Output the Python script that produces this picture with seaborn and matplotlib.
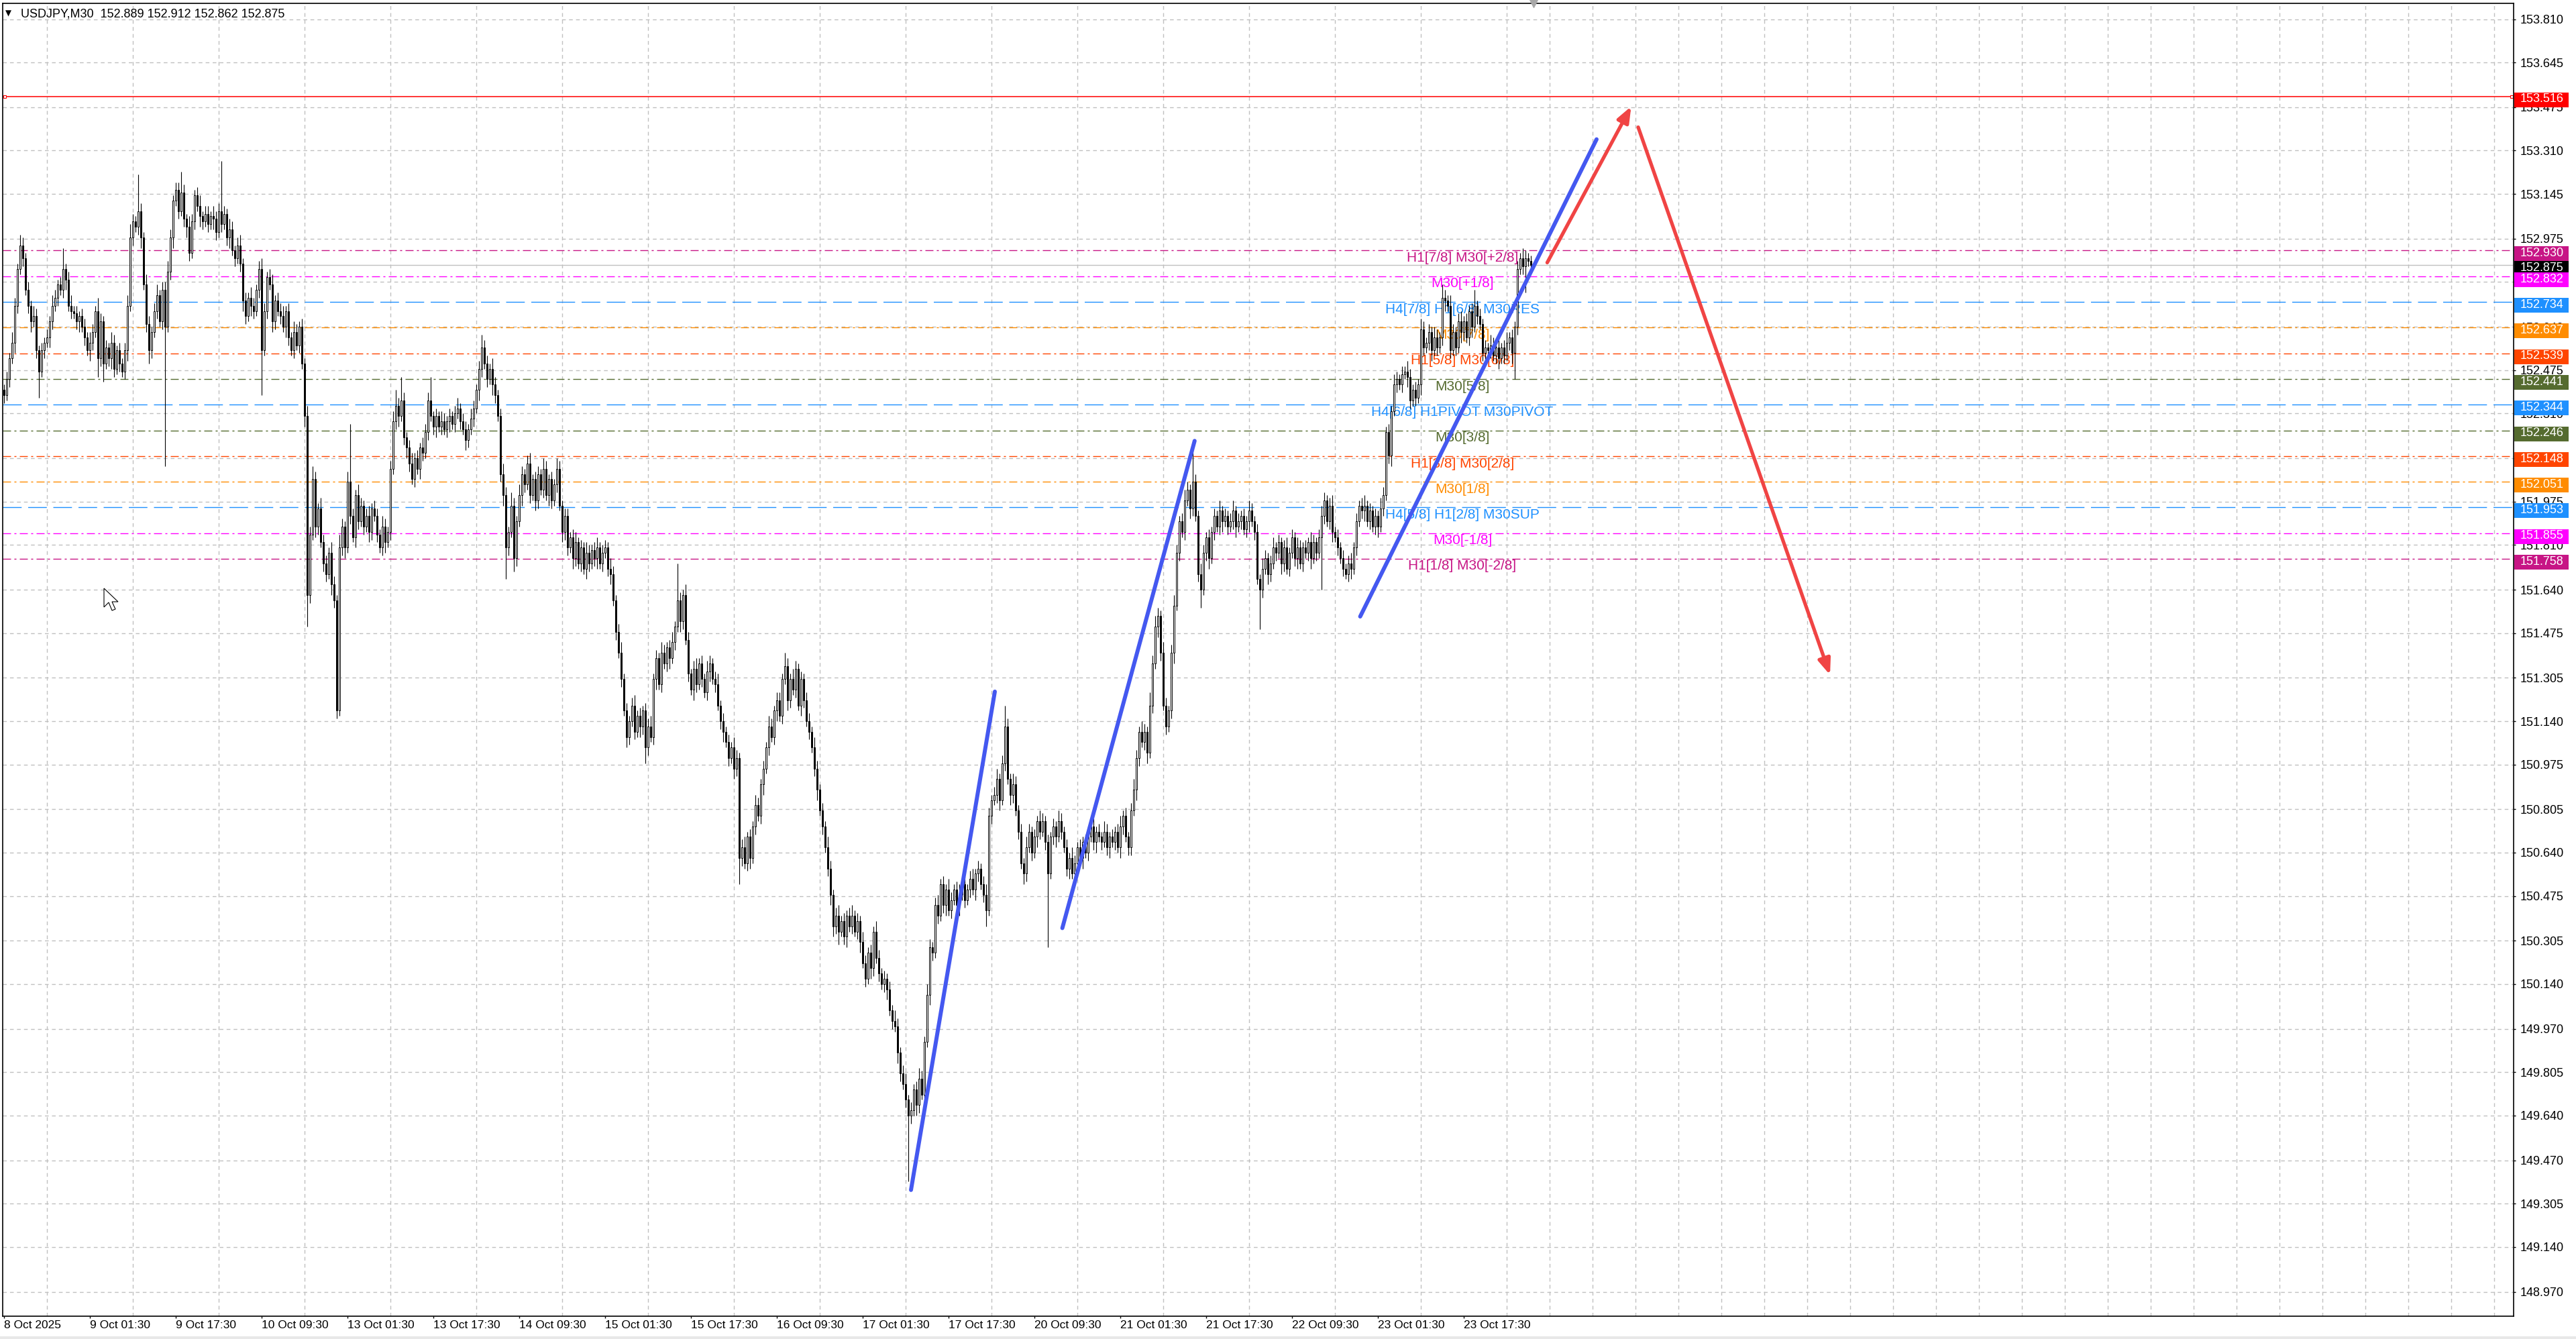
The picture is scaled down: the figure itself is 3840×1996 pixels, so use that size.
import numpy as np
import pandas as pd
import matplotlib
matplotlib.use('Agg')
import matplotlib.pyplot as plt
import matplotlib.transforms as mtransforms
from matplotlib.patches import Rectangle, Polygon
import seaborn as sns

# --- data ---
symbol_title = 'USDJPY,M30  152.889 152.912 152.862 152.875'
first_open = 152.40

# M30 closes, bar 0 = 8 Oct 09:30
closes = [
    152.38, 152.44, 152.52, 152.58, 152.72, 152.86, 152.95, 152.90, 152.78, 152.72,
    152.66, 152.68, 152.55, 152.47, 152.55, 152.58, 152.60, 152.66, 152.72, 152.75,
    152.80, 152.78, 152.86, 152.82, 152.72, 152.70, 152.69, 152.66, 152.68, 152.64,
    152.60, 152.55, 152.58, 152.62, 152.70, 152.52, 152.66, 152.50, 152.56, 152.52,
    152.58, 152.48, 152.55, 152.50, 152.47, 152.55, 152.72, 152.98, 153.04, 153.02,
    153.08, 152.98, 152.80, 152.65, 152.55, 152.62, 152.70, 152.76, 152.66, 152.78,
    152.64, 152.85, 152.98, 153.12, 153.16, 153.08, 153.15, 153.05, 153.02, 152.92,
    153.04, 153.14, 153.10, 153.06, 153.04, 153.07, 153.03, 153.06, 153.05, 153.00,
    153.08, 153.03, 153.07, 152.98, 153.01, 152.93, 152.90, 152.95, 152.88, 152.74,
    152.68, 152.75, 152.72, 152.70, 152.78, 152.86, 152.55, 152.70, 152.83, 152.80,
    152.66, 152.74, 152.70, 152.68, 152.64, 152.70, 152.60, 152.55, 152.62, 152.57,
    152.64, 152.50, 152.30, 151.62, 151.85, 152.06, 151.88, 151.95, 151.82, 151.74,
    151.70, 151.78, 151.66, 151.60, 151.18, 151.80, 151.88, 151.80, 152.05, 151.92,
    151.84, 152.00, 151.90, 151.96, 151.88, 151.92, 151.86, 151.95, 151.92, 151.85,
    151.80, 151.88, 151.82, 151.86, 152.10, 152.28, 152.34, 152.30, 152.36, 152.22,
    152.18, 152.12, 152.06, 152.14, 152.10, 152.18, 152.16, 152.24, 152.36, 152.30,
    152.26, 152.30, 152.26, 152.28, 152.25, 152.28, 152.30, 152.27, 152.31, 152.33,
    152.28, 152.25, 152.21, 152.25, 152.29, 152.33, 152.40, 152.48, 152.56, 152.50,
    152.44, 152.48, 152.42, 152.38, 152.30, 152.08, 152.00, 151.80, 151.86, 151.96,
    151.76, 151.90, 152.00, 152.08, 152.04, 152.12, 152.00, 152.06, 151.98, 152.08,
    152.02, 152.10, 152.00, 152.06, 151.98, 152.04, 152.10, 151.96, 151.86, 151.92,
    151.80, 151.84, 151.76, 151.82, 151.74, 151.80, 151.72, 151.78, 151.74, 151.79,
    151.76, 151.80, 151.74, 151.78, 151.80, 151.72, 151.70, 151.60, 151.48, 151.40,
    151.30, 151.18, 151.08, 151.14, 151.20, 151.10, 151.16, 151.12, 151.18, 151.04,
    151.12, 151.08, 151.30, 151.38, 151.28, 151.40, 151.36, 151.42, 151.38, 151.44,
    151.50, 151.60, 151.52, 151.62, 151.45, 151.32, 151.26, 151.34, 151.28, 151.36,
    151.30, 151.25, 151.33, 151.36, 151.30, 151.28, 151.20, 151.14, 151.10, 151.06,
    151.00, 151.04, 150.96, 151.00, 150.62, 150.66, 150.60, 150.70, 150.62, 150.74,
    150.82, 150.78, 150.90, 150.96, 151.04, 151.12, 151.08, 151.18, 151.22, 151.16,
    151.30, 151.35, 151.22, 151.30, 151.26, 151.34, 151.20, 151.30, 151.22, 151.14,
    151.10, 151.04, 150.96, 150.88, 150.80, 150.74, 150.66, 150.58, 150.48, 150.36,
    150.40, 150.34, 150.38, 150.32, 150.40, 150.36, 150.40, 150.34, 150.38, 150.30,
    150.22, 150.16, 150.26, 150.20, 150.34, 150.24, 150.18, 150.14, 150.16, 150.12,
    150.04, 150.00, 149.98, 149.88, 149.80, 149.76, 149.70, 149.64, 149.66, 149.74,
    149.68, 149.78, 149.72, 149.92, 150.10, 150.28, 150.26, 150.44, 150.40, 150.52,
    150.44, 150.50, 150.42, 150.46, 150.50, 150.44, 150.48, 150.52, 150.46, 150.50,
    150.54, 150.50, 150.56, 150.58, 150.52, 150.48, 150.42, 150.78, 150.84, 150.86,
    150.92, 150.84, 150.98, 151.12, 150.92, 150.86, 150.90, 150.80, 150.72, 150.60,
    150.56, 150.66, 150.72, 150.64, 150.70, 150.76, 150.72, 150.76, 150.68, 150.56,
    150.70, 150.74, 150.70, 150.76, 150.72, 150.66, 150.58, 150.62, 150.56, 150.60,
    150.66, 150.62, 150.68, 150.64, 150.70, 150.74, 150.68, 150.72, 150.70, 150.68,
    150.72, 150.66, 150.70, 150.68, 150.72, 150.66, 150.74, 150.78, 150.70, 150.66,
    150.80, 150.88, 151.00, 151.10, 151.06, 151.10, 151.02, 151.20, 151.36, 151.50,
    151.54, 151.40, 151.20, 151.12, 151.18, 151.40, 151.58, 151.78, 151.90, 151.86,
    151.98, 152.02, 151.95, 152.05, 151.92, 151.70, 151.64, 151.78, 151.84, 151.76,
    151.86, 151.92, 151.88, 151.94, 151.90, 151.92, 151.88, 151.90, 151.94, 151.88,
    151.90, 151.92, 151.87, 151.90, 151.94, 151.90, 151.86, 151.68, 151.64, 151.72,
    151.76, 151.70, 151.74, 151.80, 151.78, 151.82, 151.74, 151.80, 151.72, 151.78,
    151.84, 151.76, 151.80, 151.74, 151.80, 151.78, 151.82, 151.76, 151.82, 151.78,
    151.84, 151.92, 151.98, 151.90, 151.96, 151.86, 151.84, 151.80, 151.76, 151.72,
    151.70, 151.74, 151.72, 151.80, 151.90, 151.96, 151.94, 151.96, 151.90, 151.94,
    151.88, 151.92, 151.88, 151.95, 152.00, 152.24, 152.15, 152.32, 152.42, 152.44,
    152.42, 152.46, 152.47, 152.45, 152.36, 152.40, 152.37, 152.42, 152.63, 152.56,
    152.58, 152.62, 152.55, 152.60, 152.56, 152.60, 152.75, 152.74, 152.72, 152.55,
    152.62, 152.56, 152.66, 152.62, 152.66, 152.60, 152.70, 152.64, 152.72, 152.68,
    152.65, 152.54, 152.56, 152.55, 152.57, 152.53, 152.56, 152.52, 152.56, 152.53,
    152.58, 152.60, 152.54, 152.64, 152.86, 152.90, 152.87, 152.90, 152.89, 152.875,
]

# upper / lower shadows in 0.01 yen
wick_up = [
    2, 3, 2, 4, 3, 2, 4, 3, 2, 3, 2, 4, 3, 2, 3, 2, 3, 2, 4, 3, 2, 3, 8, 2, 3, 4, 2, 3, 2, 3,
    3, 2, 4, 3, 2, 5, 3, 2, 3, 2, 4, 3, 2, 3, 2, 3, 4, 5, 3, 2, 14, 3, 2, 4, 3, 2, 3, 4, 2, 3,
    3, 4, 3, 2, 3, 3, 8, 3, 2, 4, 3, 2, 3, 4, 2, 3, 3, 2, 4, 3, 3, 19, 3, 2, 4, 3, 2, 3, 4, 2,
    3, 2, 4, 3, 2, 3, 4, 3, 2, 3, 4, 2, 3, 3, 4, 2, 3, 2, 4, 3, 2, 3, 2, 4, 3, 5, 3, 2, 4, 3,
    3, 2, 4, 3, 2, 5, 3, 2, 4, 22, 3, 2, 4, 3, 2, 3, 4, 2, 3, 3, 2, 4, 3, 2, 3, 4, 6, 3, 9, 3,
    2, 3, 4, 2, 3, 2, 4, 3, 3, 9, 2, 3, 2, 4, 3, 2, 3, 2, 3, 4, 2, 3, 3, 2, 4, 3, 2, 3, 5, 3,
    3, 2, 4, 3, 2, 3, 4, 3, 2, 5, 3, 2, 4, 3, 2, 3, 4, 2, 3, 3, 2, 4, 3, 2, 3, 2, 4, 3, 2, 3,
    3, 2, 3, 4, 2, 3, 2, 4, 3, 2, 3, 4, 2, 3, 3, 2, 4, 3, 2, 3, 4, 2, 3, 2, 3, 4, 2, 3, 2, 3,
    3, 4, 2, 3, 2, 4, 3, 2, 3, 4, 2, 14, 3, 2, 4, 3, 2, 3, 4, 2, 3, 2, 4, 3, 2, 3, 4, 2, 3, 2,
    3, 2, 4, 3, 2, 3, 4, 2, 3, 2, 4, 3, 2, 3, 2, 4, 3, 2, 3, 3, 2, 5, 3, 2, 4, 3, 2, 3, 2, 3,
    3, 2, 4, 3, 2, 3, 2, 4, 3, 2, 3, 4, 2, 3, 2, 3, 4, 2, 3, 2, 4, 3, 2, 3, 2, 4, 3, 2, 3, 2,
    3, 2, 4, 3, 2, 3, 4, 2, 3, 2, 3, 4, 3, 2, 4, 3, 2, 3, 4, 2, 3, 2, 4, 3, 2, 3, 4, 2, 3, 2,
    3, 4, 2, 3, 2, 3, 4, 3, 2, 3, 4, 2, 3, 8, 3, 2, 4, 3, 2, 3, 2, 4, 3, 2, 3, 2, 4, 3, 2, 3,
    2, 3, 2, 4, 3, 2, 3, 2, 4, 3, 2, 3, 2, 3, 4, 2, 3, 2, 3, 2, 4, 3, 2, 3, 2, 3, 4, 2, 3, 2,
    3, 4, 3, 2, 4, 3, 2, 5, 3, 4, 3, 2, 4, 3, 2, 3, 4, 3, 2, 3, 4, 3, 2, 13, 3, 2, 4, 3, 2, 3,
    2, 3, 2, 4, 2, 3, 2, 3, 4, 2, 3, 2, 3, 2, 4, 3, 2, 3, 2, 4, 3, 2, 3, 4, 2, 3, 2, 3, 4, 2,
    3, 2, 4, 3, 2, 3, 2, 4, 3, 2, 3, 4, 3, 2, 3, 4, 2, 3, 2, 3, 2, 3, 4, 2, 3, 2, 3, 4, 2, 3,
    2, 3, 2, 4, 3, 2, 3, 2, 4, 3, 2, 3, 2, 4, 3, 2, 3, 2, 4, 3, 2, 3, 2, 4, 3, 2, 5, 3, 2, 4,
    3, 2, 3, 4, 2, 3, 2, 3, 6, 2, 3, 2, 3, 2, 4, 3, 2, 3, 2, 3, 4, 2, 3, 2, 3, 2, 4, 3, 2, 2,
]
wick_dn = [
    3, 2, 3, 2, 4, 3, 2, 3, 2, 3, 4, 2, 3, 10, 2, 3, 2, 4, 3, 2, 3, 2, 3, 4, 2, 3, 2, 3, 4, 2,
    3, 2, 4, 3, 2, 7, 3, 7, 2, 3, 4, 3, 2, 3, 2, 3, 4, 2, 3, 2, 3, 4, 2, 3, 5, 3, 2, 3, 2, 3,
    53, 2, 3, 4, 2, 3, 2, 3, 4, 3, 2, 3, 2, 4, 3, 2, 3, 2, 4, 3, 2, 3, 2, 3, 4, 2, 3, 2, 3, 4,
    3, 2, 4, 3, 2, 3, 17, 2, 3, 2, 4, 3, 2, 3, 2, 4, 3, 2, 3, 2, 3, 2, 4, 12, 3, 2, 4, 3, 2, 3,
    3, 2, 4, 3, 3, 2, 3, 4, 2, 3, 2, 4, 3, 2, 3, 2, 4, 3, 2, 3, 2, 3, 4, 2, 3, 2, 3, 4, 2, 3,
    4, 3, 2, 3, 2, 4, 3, 2, 3, 2, 3, 4, 2, 3, 2, 3, 4, 2, 3, 2, 3, 2, 4, 3, 2, 3, 2, 4, 3, 2,
    3, 2, 4, 3, 2, 3, 4, 12, 3, 2, 5, 3, 2, 4, 3, 2, 3, 2, 4, 3, 2, 3, 2, 4, 3, 2, 3, 2, 4, 3,
    3, 2, 4, 3, 2, 3, 2, 4, 3, 2, 3, 4, 2, 3, 2, 3, 4, 2, 3, 2, 3, 2, 4, 3, 2, 3, 2, 4, 3, 6,
    3, 2, 3, 4, 2, 3, 2, 3, 4, 2, 3, 2, 4, 3, 2, 3, 2, 4, 3, 2, 3, 2, 3, 4, 2, 3, 2, 3, 4, 2,
    3, 2, 4, 3, 10, 3, 2, 3, 4, 2, 3, 2, 3, 4, 2, 3, 2, 3, 4, 2, 3, 2, 4, 3, 2, 3, 2, 4, 3, 2,
    3, 2, 3, 4, 2, 3, 2, 3, 4, 4, 3, 5, 2, 3, 4, 2, 3, 2, 3, 4, 2, 3, 2, 4, 3, 2, 3, 2, 3, 4,
    2, 3, 2, 4, 3, 2, 3, 25, 3, 2, 4, 3, 2, 3, 2, 4, 3, 2, 3, 2, 3, 4, 2, 3, 2, 3, 4, 2, 3, 2,
    3, 2, 4, 3, 2, 3, 6, 2, 3, 2, 3, 4, 2, 3, 2, 4, 3, 2, 3, 2, 4, 3, 2, 3, 2, 4, 3, 2, 3, 28,
    2, 3, 4, 2, 3, 2, 3, 4, 2, 3, 2, 3, 4, 2, 3, 2, 3, 4, 2, 3, 2, 3, 4, 2, 3, 2, 4, 3, 2, 3,
    3, 2, 4, 3, 2, 3, 4, 2, 3, 2, 4, 3, 2, 3, 2, 3, 4, 2, 3, 2, 3, 2, 4, 3, 2, 3, 7, 2, 3, 4,
    2, 3, 2, 3, 4, 2, 3, 2, 3, 4, 2, 3, 2, 3, 4, 2, 3, 2, 15, 3, 2, 4, 3, 2, 3, 2, 4, 3, 2, 3,
    2, 3, 4, 2, 3, 2, 3, 4, 2, 3, 2, 20, 3, 2, 3, 4, 2, 3, 2, 3, 2, 3, 4, 2, 3, 2, 3, 4, 2, 3,
    2, 3, 4, 2, 3, 2, 3, 4, 2, 3, 2, 3, 2, 4, 3, 2, 3, 2, 4, 3, 2, 3, 4, 2, 3, 2, 3, 4, 2, 3,
    2, 3, 2, 4, 3, 2, 3, 4, 2, 3, 2, 3, 4, 2, 3, 2, 3, 4, 2, 3, 2, 3, 4, 10, 3, 2, 3, 10, 2, 1,
]

date_labels = ['8 Oct 2025', '9 Oct 01:30', '9 Oct 17:30', '10 Oct 09:30', '13 Oct 01:30',
               '13 Oct 17:30', '14 Oct 09:30', '15 Oct 01:30', '15 Oct 17:30', '16 Oct 09:30',
               '17 Oct 01:30', '17 Oct 17:30', '20 Oct 09:30', '21 Oct 01:30', '21 Oct 17:30',
               '22 Oct 09:30', '23 Oct 01:30', '23 Oct 17:30']
price_ticks = [153.810, 153.645, 153.475, 153.310, 153.145, 152.975, 152.810, 152.640,
               152.475, 152.310, 152.140, 151.975, 151.810, 151.640, 151.475, 151.305,
               151.140, 150.975, 150.805, 150.640, 150.475, 150.305, 150.140, 149.970,
               149.805, 149.640, 149.470, 149.305, 149.140, 148.970]

level_prices = [152.930, 152.832, 152.734, 152.637, 152.539, 152.441, 152.344,
                152.246, 152.148, 152.051, 151.953, 151.855, 151.758]
level_names = ['H1[7/8] M30[+2/8]', 'M30[+1/8]', 'H4[7/8] H1[6/8] M30RES', 'M30[7/8]',
               'H1[5/8] M30[6/8]', 'M30[5/8]', 'H4[6/8] H1PIVOT M30PIVOT', 'M30[3/8]',
               'H1[3/8] M30[2/8]', 'M30[1/8]', 'H4[5/8] H1[2/8] M30SUP', 'M30[-1/8]',
               'H1[1/8] M30[-2/8]']
level_colors = ['#C71585', '#FF00FF', '#1E90FF', '#FF8C00', '#FF4500', '#556B2F', '#1E90FF',
                '#556B2F', '#FF4500', '#FF8C00', '#1E90FF', '#FF00FF', '#C71585']

resistance_price = 153.516
bid_price = 152.875

# hand drawn trend lines (bar index, price)
blue_x = [[338.0, 369.25], [394.4, 443.7], [505.4, 593.5]]
blue_y = [[149.357, 151.2525], [150.353, 152.206], [151.538, 153.353]]
red_x = [[575.1, 606.4], [609.0, 680.5]]
red_y = [[152.884, 153.478], [153.399, 151.316]]

# --- style ---
sns.set_theme(style='white')
plt.rcParams['font.family'] = ['Liberation Sans', 'DejaVu Sans']

W, H = 3840, 1996
fig = plt.figure(figsize=(W / 100, H / 100), dpi=100)
fig.patch.set_facecolor('white')
ax_l, ax_r, ax_t, ax_b = 4, 3747, 5, 1962
ax = fig.add_axes([ax_l / W, (H - ax_b) / H, (ax_r - ax_l) / W, (ax_b - ax_t) / H])
ax.set_facecolor('white')
ax.set_xlim(-0.5, 935.25)
ax.set_ylim(148.877, 153.870)

grid_kw = dict(color='#C0C0C0', linestyle=(0, (4, 3.5)), linewidth=1.0)
ax.set_yticks(price_ticks)
ax.set_yticklabels([f'{p:.3f}' for p in price_ticks])
ax.set_xticks(np.arange(len(date_labels)) * 32)
ax.set_xticklabels(date_labels)
ax.set_xticks(np.arange(0, 935, 16), minor=True)
ax.grid(axis='y', which='major', **grid_kw)
ax.grid(axis='x', which='minor', **grid_kw)
ax.grid(axis='x', which='major', visible=False)
ax.set_axisbelow(True)

ax.yaxis.tick_right()
ax.tick_params(axis='y', which='major', right=True, left=False, labelright=True, labelleft=False,
               length=2.5, width=1.0, pad=4.5, labelsize=13, colors='black')
ax.tick_params(axis='x', which='major', bottom=True, length=2.5, width=1.0, pad=1.5,
               labelsize=12.5, colors='black')
ax.tick_params(axis='x', which='minor', length=0)
for lab in ax.get_xticklabels():
    lab.set_horizontalalignment('left')
for sp in ax.spines.values():
    sp.set_visible(True)
    sp.set_color('black')
    sp.set_linewidth(1.2)

# --- levels ---
dashdot = (0, (8.6, 3.6, 2.2, 3.6))
dashed = (0, (20, 7))
for p, name, col in zip(level_prices, level_names, level_colors):
    ls = dashed if col == '#1E90FF' else dashdot
    ax.axhline(p, color=col, linestyle=ls, linewidth=1.0, zorder=1.5)
    ax.text(543.5, p - 0.004, name, color=col, fontsize=15, ha='center', va='top', zorder=2)

ax.axhline(resistance_price, color='#FF0000', linewidth=1.1, zorder=1.6)
ax.plot([0.2, 934.4], [resistance_price, resistance_price], linestyle='none', marker='s',
        markersize=3.5, markerfacecolor='white', markeredgecolor='#FF0000', markeredgewidth=0.8,
        zorder=1.7, clip_on=False)
ax.axhline(bid_price, color='#C0C0C0', linewidth=1.0, zorder=1.4)

# --- candles ---
c = np.array(closes)
o = np.concatenate([[first_open], c[:-1]])
hi = np.maximum(o, c) + np.array(wick_up) / 100
lo = np.minimum(o, c) - np.array(wick_dn) / 100
bars = pd.DataFrame({'x': np.arange(len(c)), 'o': o, 'c': c, 'hi': hi, 'lo': lo})
bars['bottom'] = bars[['o', 'c']].min(axis=1)
bars['h'] = (bars['c'] - bars['o']).abs().clip(lower=0.003)
bull = bars[bars['c'] >= bars['o']]
bear = bars[bars['c'] < bars['o']]
ax.vlines(bars['x'], bars['lo'], bars['hi'], color='black', linewidth=0.8, zorder=3)
ax.bar(bull['x'], bull['h'], bottom=bull['bottom'], width=0.72, color='white',
       edgecolor='black', linewidth=0.7, zorder=3.5)
ax.bar(bear['x'], bear['h'], bottom=bear['bottom'], width=0.72, color='black',
       edgecolor='black', linewidth=0.7, zorder=3.5)

# --- trend lines ---
for xs, ys in zip(blue_x, blue_y):
    sns.lineplot(x=xs, y=ys, ax=ax, color='#4458F0', linewidth=4.3, sort=False,
                 estimator=None, solid_capstyle='round', zorder=5)
for xs, ys in zip(red_x, red_y):
    ax.annotate('', xy=(xs[1], ys[1]), xytext=(xs[0], ys[0]),
                arrowprops=dict(arrowstyle='-|>,head_length=1.4,head_width=0.55',
                                mutation_scale=10, color='#F04444', lw=3.8,
                                shrinkA=0, shrinkB=0, capstyle='round', joinstyle='round'),
                zorder=5)

# --- right side price boxes ---
trans = mtransforms.blended_transform_factory(ax.transAxes, ax.transData)
span = ax_r - ax_l
box_x0 = (3748 - ax_l) / span
box_w = (3829 - 3748) / span
txt_x = (3757 - ax_l) / span
box_h = 22 / 391.9
box_off = 5 / 391.9
box_prices = [bid_price] + level_prices + [resistance_price]
box_colors = ['black'] + level_colors + ['#FF0000']
for p, col in zip(box_prices, box_colors):
    yc = p - box_off
    ax.add_patch(Rectangle((box_x0, yc - box_h / 2), box_w, box_h, transform=trans,
                           facecolor=col, edgecolor='none', clip_on=False, zorder=6))
    ax.text(txt_x, yc + 0.002, f'{p:.3f}', transform=trans, color='white', fontsize=13,
            ha='left', va='center', clip_on=False, zorder=7)

# --- header and chart furniture ---
ax.annotate(symbol_title, xy=(0, 1), xycoords='axes fraction', xytext=(27, -7),
            textcoords='offset pixels', ha='left', va='top', fontsize=13, color='black', zorder=8)
ax.annotate('\u25BC', xy=(0, 1), xycoords='axes fraction', xytext=(4, -9),
            textcoords='offset pixels', ha='left', va='top', fontsize=8.5, color='black',
            family='DejaVu Sans', zorder=8)
ax.plot([570], [153.870], marker='v', color='#A8A8A8', markersize=8, clip_on=False, zorder=8)

cursor = Polygon([(0, 0), (0, -28), (7, -21), (12, -33), (17, -31), (12, -20), (21, -20)],
                 closed=True, facecolor='white', edgecolor='black', linewidth=0.8,
                 transform=mtransforms.Affine2D().translate(155, H - 877))
fig.add_artist(cursor)
fig.add_artist(Rectangle((0, 0), W, 4, transform=mtransforms.IdentityTransform(),
                         facecolor='#E8E8E8', edgecolor='none'))

fig.savefig('out.png', dpi=100, facecolor='white')
